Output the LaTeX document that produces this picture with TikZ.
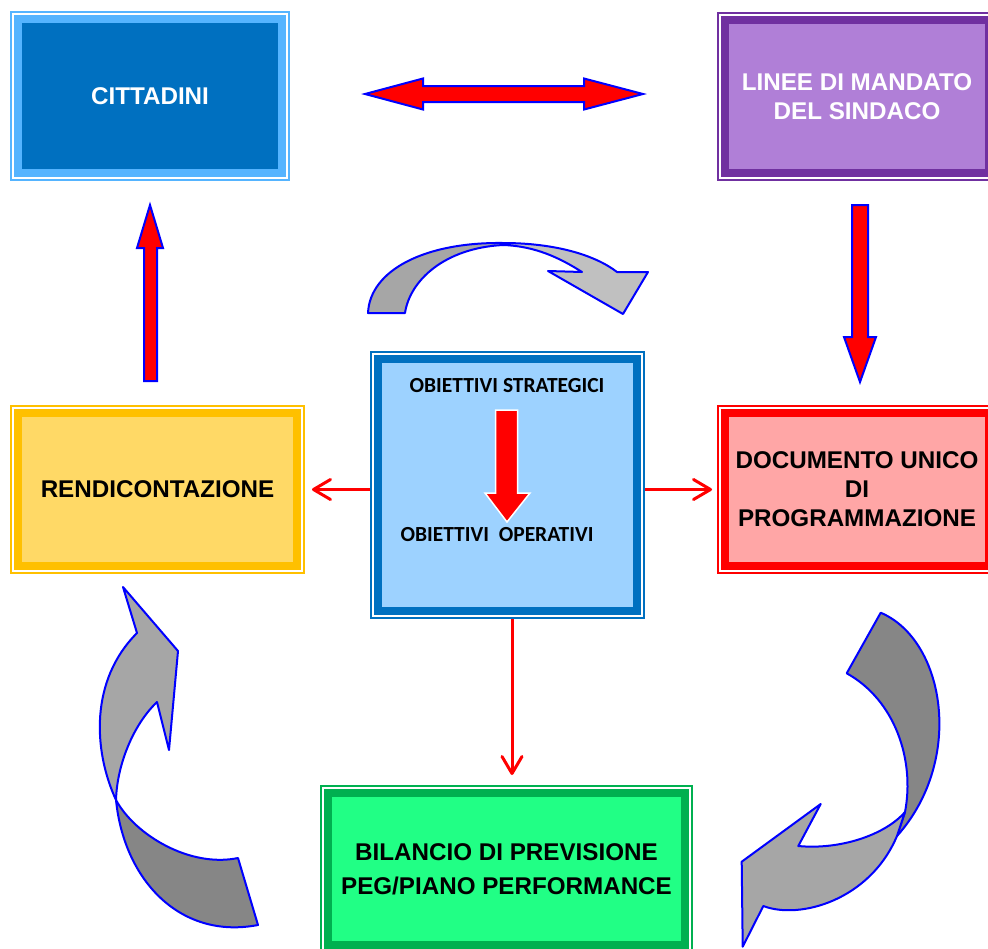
\documentclass[tikz,border=0pt]{standalone}
\usepackage{fontspec}
\setmainfont{Liberation Sans}
\newfontfamily\calibfont{Carlito}
\usetikzlibrary{arrows.meta,calc}
\definecolor{citband}{HTML}{55B4FF}
\definecolor{citfill}{HTML}{0070C0}
\definecolor{linband}{HTML}{7030A0}
\definecolor{linfill}{HTML}{B07FD7}
\definecolor{renband}{HTML}{FFC000}
\definecolor{renfill}{HTML}{FFD966}
\definecolor{dupband}{HTML}{FF0000}
\definecolor{dupfill}{HTML}{FFA6A6}
\definecolor{cenband}{HTML}{0070C0}
\definecolor{cenfill}{HTML}{9DD2FF}
\definecolor{bilband}{HTML}{00B050}
\definecolor{bilfill}{HTML}{21FF85}
\definecolor{greylight}{HTML}{A6A6A6}
\definecolor{greydark}{HTML}{868686}
\definecolor{greypale}{HTML}{C0C0C0}
\begin{document}
\begin{tikzpicture}[x=1pt,y=-1pt,
  boxst/.style={rectangle, outer sep=0pt, inner sep=0pt, line width=8pt, align=center,
    font=\bfseries\fontsize{24.2}{29}\selectfont},
  thinframe/.style={line width=1.3pt},
  blockarr/.style={fill=red, draw=blue, line width=2pt, line join=miter},
  curvarr/.style={draw=blue, line width=2pt, line join=round},
  redconn/.style={draw=red, line width=3pt, -{Straight Barb[length=17pt,width=20pt,line cap=round,line join=round]}}]
\useasboundingbox (0,0) rectangle (988,948);
\clip (0,0) rectangle (988,948);
\fill[white] (0,0) rectangle (988,948);

% boxes
\node[boxst, draw=citband, fill=citfill, text=white, minimum width=264pt, minimum height=154pt] (cit) at (150,96) {CITTADINI};
\node[boxst, draw=linband, fill=linfill, text=white, minimum width=264pt, minimum height=153pt] (lin) at (857,96.5) {LINEE DI MANDATO\\DEL SINDACO};
\node[boxst, draw=renband, fill=renfill, text=black, minimum width=279pt, minimum height=153pt] (ren) at (157.5,489.5) {RENDICONTAZIONE};
\node[boxst, draw=dupband, fill=dupfill, text=black, minimum width=264pt, minimum height=153pt] (dup) at (857,489.5) {DOCUMENTO UNICO\\DI\\PROGRAMMAZIONE};
\node[boxst, draw=cenband, fill=cenfill, minimum width=259pt, minimum height=252pt] (cen) at (507.5,485) {};
\node[boxst, draw=bilband, fill=bilfill, text=black, minimum width=357pt, minimum height=152pt] (bil) at (506.5,869) {BILANCIO DI PREVISIONE\\[5pt]PEG/PIANO PERFORMANCE};

\foreach \n/\c in {cit/citband, lin/linband, ren/renband, dup/dupband, cen/cenband, bil/bilband}{
  \draw[thinframe, \c] ([shift={(-7pt,7pt)}]\n.north west) rectangle ([shift={(7pt,-7pt)}]\n.south east);
}

% centre texts
\node[font=\calibfont\bfseries\fontsize{21.5}{25}\selectfont, inner sep=0pt] (ostr) at (507,386) {OBIETTIVI STRATEGICI};
\node[font=\calibfont\bfseries\fontsize{21.5}{25}\selectfont, inner sep=0pt] (oop) at (497,535) {OBIETTIVI\ \ OPERATIVI};
\draw[fill=red, draw=white, line width=1.5pt] (495.5,410) -- (517.5,410) -- (517.5,493) -- (530,493) -- (507,522) -- (485,493) -- (495.5,493) -- cycle;

% red connectors
\draw[redconn, shorten <=8pt, shorten >=15pt] (ren.east -| cen.west) -- (ren.east);
\draw[redconn, shorten <=8pt, shorten >=13pt] (dup.west -| cen.east) -- (dup.west);
\draw[redconn, shorten <=8pt, shorten >=18pt] ([xshift=4.5pt]cen.south) -- ([xshift=4.5pt]cen.south |- bil.north);

% block arrows
\draw[blockarr] (365,94) -- (423,78.5) -- (423,86) -- (584,86) -- (584,78.5) -- (643,94) -- (584,109.5) -- (584,102) -- (423,102) -- (423,109.5) -- cycle;
\draw[blockarr] (150,205) -- (163,248) -- (157,248) -- (157,381) -- (144,381) -- (144,248) -- (137,248) -- cycle;
\draw[blockarr] (852,205) -- (868,205) -- (868,337) -- (876,337) -- (860,382) -- (844,337) -- (852,337) -- cycle;

% top curved arrow
\draw[curvarr, fill=greypale] (503,243) .. controls (555,243) and (595,255) .. (617,272) -- (648,272) -- (623,314) -- (548,271) -- (582,272) .. controls (560,258) and (535,246) .. (503,245) -- cycle;
\draw[curvarr, fill=greylight] (368,313) .. controls (370,270) and (425,242) .. (503,243) -- (503,245) .. controls (445,248) and (410,280) .. (405,313) -- cycle;

% bottom-left curved arrow
\draw[curvarr, fill=greydark] (116,800) .. controls (124,880) and (180,940) .. (258,925) -- (238,858) .. controls (190,868) and (135,835) .. (116,800) -- cycle;
\draw[curvarr, fill=greylight] (123,587) -- (178,651) -- (169,750) -- (157,702) .. controls (133,725) and (117,765) .. (116,800) .. controls (93,750) and (90,680) .. (137,633) -- cycle;

% bottom-right curved arrow
\draw[curvarr, fill=greydark] (880.7,612.7) .. controls (945,640) and (965,760) .. (897,836) -- (905,812) .. controls (915,760) and (895,700) .. (846.7,673.3) -- cycle;
\draw[curvarr, fill=greylight] (798.3,846) -- (820.7,804) -- (741.7,861.7) -- (742.7,946.7) -- (763.3,906) .. controls (800,920) and (870,900) .. (897,836) -- (905,812) .. controls (885,835) and (840,850) .. (798.3,846) -- cycle;
\end{tikzpicture}
\end{document}
